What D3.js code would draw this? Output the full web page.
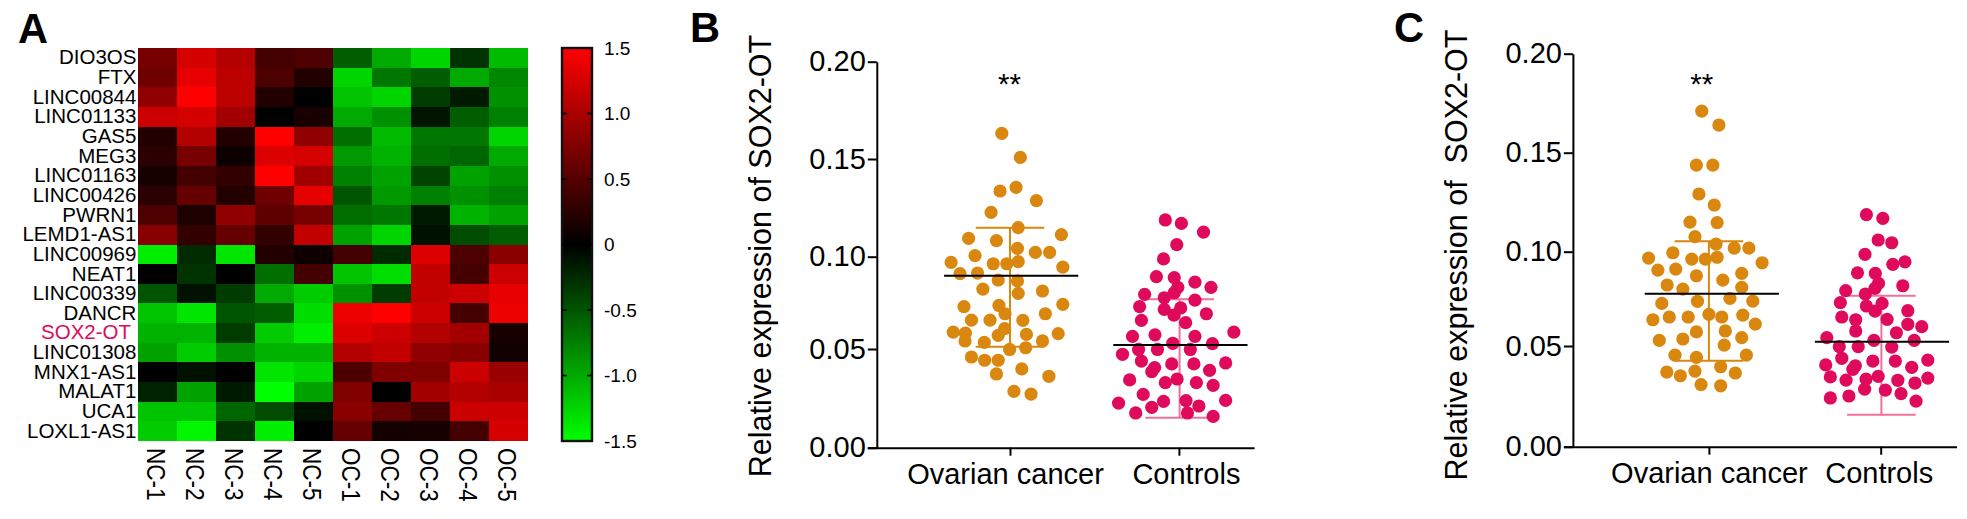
<!DOCTYPE html>
<html>
<head>
<meta charset="utf-8">
<script src="https://cdn.jsdelivr.net/npm/d3@7"></script>
<style>
  html, body { margin: 0; padding: 0; background: #fff; }
  svg { display: block; }
  text { font-family: "Liberation Sans", Arial, sans-serif; fill: #000; white-space: pre; }
</style>
</head>
<body>
<svg id="chart" width="1967" height="519"></svg>
<script>
// heatmap
const genes = ["DIO3OS","FTX","LINC00844","LINC01133","GAS5","MEG3","LINC01163","LINC00426","PWRN1","LEMD1-AS1",
  "LINC00969","NEAT1","LINC00339","DANCR","SOX2-OT","LINC01308","MNX1-AS1","MALAT1","UCA1","LOXL1-AS1"];
const samples = ["NC-1","NC-2","NC-3","NC-4","NC-5","OC-1","OC-2","OC-3","OC-4","OC-5"];
const expression = [
  [.7,1.25,1.05,.4,.45,-.55,-1.0,-1.25,-.3,-1.1],
  [.65,1.35,1.1,.45,.2,-1.25,-.7,-.55,-1.0,-.8],
  [.85,1.5,1.1,.2,0,-1.15,-1.25,-.35,-.15,-.85],
  [1.2,1.25,.95,0,.15,-1.0,-.85,-.12,-.55,-.75],
  [.2,1.05,.2,1.5,.85,-.65,-1.1,-.7,-.7,-1.25],
  [.25,.7,.08,1.3,1.25,-.9,-1.05,-.65,-.6,-1.0],
  [.15,.4,.3,1.5,.95,-.75,-.95,-.4,-.95,-.85],
  [.25,.6,.2,.65,1.35,-.5,-.9,-.75,-.85,-.75],
  [.45,.18,.85,.55,.7,-.65,-.7,-.15,-1.05,-.95],
  [.8,.3,.6,.3,1.15,-.95,-1.25,-.1,-.45,-.55],
  [-1.4,-.25,-1.35,.2,.08,.4,-.25,1.3,.45,.8],
  [0,-.3,0,-.65,.4,-1.15,-1.3,1.15,.4,1.2],
  [-.5,-.1,-.35,-1.0,-1.2,-.85,-.35,1.15,1.2,1.35],
  [-1.15,-1.35,-.5,-.55,-1.3,1.4,1.5,1.2,.4,1.4],
  [-1.05,-1.05,-.35,-1.2,-1.4,1.3,1.2,1.05,.95,.15],
  [-.95,-1.2,-.85,-1.05,-1.05,1.05,1.15,.85,.8,.1],
  [0,-.1,0,-1.35,-1.25,.45,.75,.75,1.2,.9],
  [-.2,-.95,-.15,-1.5,-.95,.75,0,.95,1.05,1.0],
  [-1.15,-1.15,-.6,-.45,-.1,.8,.6,.4,1.2,1.2],
  [-1.2,-1.45,-.3,-1.4,0,.6,.12,.15,.4,1.25]
];
const colorbarTicks = [1.5,1,.5,0,-.5,-1,-1.5];

// scatter panels, values with their swarm offsets
const groups = ["Ovarian cancer","Controls"];
const yTicks = [0,.05,.1,.15,.2];

const ovarianB = [.1629,.1504,.1330,.1349,.1280,.1219,.1140,.1104,.1085,.1073,.1033,.0995,.1012,.1012,.0960,.0953,.0953,.0964,.0936,.0902,.0905,.0869,.0864,.0822,.0812,.0800,.0731,.0737,.0743,.0694,.0694,.0661,.0661,.0660,.0617,.0599,.0594,.0582,.0587,.0591,.0553,.0546,.0553,.0509,.0518,.0470,.0453,.0453,.0408,.0382,.0370,.0292,.0278];
const ovarianBJitter = [-23,29,-28,17,74,-53,23,144,-116,-38,21,-98,71,111,-165,-47,-9,23,148,-140,-91,-33,21,-76,91,23,-129,-31,148,-14,99,-108,-56,36,-15,-159,-125,-33,46,135,-126,-72,91,-1,44,-108,-71,-33,33,-38,109,11,59];
const controlB = [.1180,.1162,.1117,.1052,.0978,.0886,.0881,.0858,.0831,.0831,.0794,.0803,.0777,.0765,.0731,.0724,.0717,.0694,.0687,.0660,.0648,.0599,.0577,.0585,.0577,.0541,.0539,.0509,.0509,.0509,.0484,.0449,.0434,.0434,.0439,.0415,.0394,.0401,.0351,.0356,.0337,.0337,.0323,.0276,.0231,.0240,.0244,.0245,.0216,.0209,.0180,.0180,.0162];
const controlBJitter = [-40,5,67,-8,-45,-65,-15,43,88,-5,-98,-15,-43,43,-112,3,-43,75,-16,-107,17,152,-132,-69,43,-19,92,-115,-62,30,-160,-107,-22,40,129,-70,-78,84,-140,-7,-40,47,94,-102,-171,-45,18,129,54,-78,-123,22,94];

const ovarianC = [.1708,.1637,.1433,.1433,.1286,.1230,.1143,.1140,.1069,.1031,.1011,.1011,.0987,.0960,.0955,.0955,.0964,.0936,.0899,.0904,.0870,.0882,.0848,.0823,.0802,.0811,.0729,.0740,.0755,.0741,.0673,.0646,.0660,.0660,.0660,.0670,.0624,.0584,.0589,.0541,.0548,.0555,.0517,.0466,.0455,.0466,.0407,.0380,.0385,.0375,.0361,.0316,.0310];
const ovarianCJitter = [-20,28,-35,11,-28,15,-53,23,-39,20,71,112,-101,-169,-48,-10,23,149,-143,-93,-35,92,39,-117,-73,92,-132,-32,59,123,0,-157,-111,-58,36,95,130,-35,46,-139,-73,92,43,-95,-35,105,33,-118,-39,74,-80,-22,33];
const controlC = [.1181,.1162,.1052,.1038,.0979,.0928,.0941,.0885,.0882,.0831,.0806,.0819,.0794,.0777,.0733,.0729,.0716,.0690,.0692,.0660,.0648,.0646,.0611,.0623,.0580,.0589,.0555,.0541,.0541,.0509,.0509,.0507,.0450,.0436,.0436,.0441,.0416,.0412,.0394,.0404,.0355,.0358,.0344,.0339,.0338,.0349,.0324,.0293,.0288,.0270,.0258,.0248,.0232];
const controlCJitter = [-42,4,-9,29,-46,32,66,-67,-17,-8,-18,60,-100,-45,-115,2,-42,-18,74,-111,16,-72,113,74,42,-72,-153,-21,92,-118,-65,29,-111,-24,39,130,-156,-73,-80,85,-143,-9,-43,-99,46,130,94,-47,11,55,-91,-143,97];

// mean, upper and lower whisker of each group
const statsB = [{ mean: .0891, hi: .1140, lo: .0523 }, { mean: .0532, hi: .0769, lo: .0155 }];
const statsC = [{ mean: .0779, hi: .1045, lo: .0438 }, { mean: .0534, hi: .0768, lo: .0163 }];

const orange = "#D9870F";
const pink = "#DF0A5B";
const pinkBar = "#F0709C";

const svg = d3.select("#chart");
svg.append("rect").attr("width", 1967).attr("height", 519).attr("fill", "#fff");

// ---- panel A ----
const color = d3.scaleLinear().domain([-1.5, 0, 1.5]).range(["#00ff00", "#000000", "#ff0000"]);
const xCell = d3.scaleBand().domain(samples).range([137.9, 527.9]);
const yCell = d3.scaleBand().domain(genes).range([48, 441]);

const cells = expression.flatMap((row, i) => row.map((v, j) => ({ gene: genes[i], sample: samples[j], v })));
svg.append("g")
  .selectAll("rect")
  .data(cells)
  .join("rect")
  .attr("x", (d) => xCell(d.sample))
  .attr("y", (d) => yCell(d.gene))
  .attr("width", xCell.bandwidth())
  .attr("height", yCell.bandwidth())
  .attr("fill", (d) => color(d.v))
  .attr("shape-rendering", "crispEdges");

const rowAxis = svg.append("g")
  .attr("transform", "translate(137.9,0)")
  .call(d3.axisLeft(yCell).tickSize(0).tickPadding(1.5));
rowAxis.select(".domain").remove();
rowAxis.selectAll("text")
  .style("font-size", "20.5px")
  .style("font-family", "'Liberation Sans'")
  .style("fill", (d) => (d === "SOX2-OT" ? pink : "#000"))
  .text((d) => (d === "SOX2-OT" ? d + " " : d));

const colAxis = svg.append("g")
  .attr("transform", "translate(0,441)")
  .call(d3.axisBottom(xCell).tickSize(0));
colAxis.select(".domain").remove();
colAxis.selectAll("text")
  .style("font-size", "25px")
  .style("font-family", "'Liberation Sans'")
  .attr("text-anchor", "start")
  .attr("dy", 0)
  .attr("y", 0)
  .attr("transform", "translate(-10.5,7) rotate(90) scale(.9,1)");

// colour bar
const yBar = d3.scaleLinear().domain([1.5, -1.5]).range([48, 441]);
const defs = svg.append("defs");
const grad = defs.append("linearGradient")
  .attr("id", "barGradient")
  .attr("x1", 0).attr("x2", 0).attr("y1", 0).attr("y2", 1);
grad.selectAll("stop")
  .data([1.5, 0, -1.5])
  .join("stop")
  .attr("offset", (d) => (1.5 - d) / 3)
  .attr("stop-color", (d) => color(d));
svg.append("rect")
  .attr("x", 562).attr("y", yBar(1.5))
  .attr("width", 30).attr("height", yBar(-1.5) - yBar(1.5))
  .attr("fill", "url(#barGradient)")
  .attr("stroke", "#111").attr("stroke-width", 2.4);
const barG = svg.append("g");
[[562, 567], [587, 592]].forEach(([a, b]) => {
  barG.selectAll(null)
    .data(colorbarTicks.filter((d) => Math.abs(d) !== 1.5))
    .join("line")
    .attr("x1", a).attr("x2", b)
    .attr("y1", (d) => yBar(d)).attr("y2", (d) => yBar(d))
    .attr("stroke", "#000").attr("stroke-width", 1.6);
});
const barAxis = svg.append("g")
  .attr("transform", "translate(592,0)")
  .call(d3.axisRight(yBar).tickValues(colorbarTicks).tickSize(0).tickPadding(12)
    .tickFormat((d) => (d === 0 ? "0" : d.toFixed(1))));
barAxis.select(".domain").remove();
barAxis.selectAll("text")
  .style("font-size", "19px")
  .style("font-family", "'Liberation Sans'");

// ---- panels B and C ----
function drawPanel(p) {
  const g = svg.append("g");
  const y = d3.scaleLinear().domain([0, .2]).range([p.y0, p.y20]);
  // printed ticks are not quite evenly spaced
  const yAxisScale = d3.scaleLinear().domain(yTicks).range(p.tickPos);
  const x = d3.scalePoint().domain(groups).range(p.centers);
  const jitter = d3.scaleLinear().domain([-188, 188]).range([-67.1, 67.1]);
  const capHalf = 34.3;

  const series = [
    { key: groups[0], values: p.ovarian, offsets: p.ovarianJitter, stat: p.stats[0], fill: orange, bar: orange, barX: p.barX[0], meanX: p.meanX[0] },
    { key: groups[1], values: p.control, offsets: p.controlJitter, stat: p.stats[1], fill: pink, bar: pinkBar, barX: p.barX[1], meanX: p.meanX[1] }
  ];

  series.forEach((s) => {
    const bars = g.append("g").attr("stroke", s.bar).attr("stroke-width", 2);
    bars.append("line").attr("x1", s.barX).attr("x2", s.barX).attr("y1", y(s.stat.hi)).attr("y2", y(s.stat.lo));
    [s.stat.hi, s.stat.lo].forEach((v) => {
      bars.append("line").attr("x1", s.barX - capHalf).attr("x2", s.barX + capHalf).attr("y1", y(v)).attr("y2", y(v));
    });
    g.append("g")
      .selectAll("circle")
      .data(s.values.map((v, i) => ({ v, off: s.offsets[i] })))
      .join("circle")
      .attr("cx", (d) => s.barX + jitter(d.off))
      .attr("cy", (d) => y(d.v))
      .attr("r", 6.6)
      .attr("fill", s.fill);
    g.append("line")
      .attr("x1", s.meanX + jitter(-188)).attr("x2", s.meanX + jitter(188))
      .attr("y1", y(s.stat.mean)).attr("y2", y(s.stat.mean))
      .attr("stroke", "#000").attr("stroke-width", 2);
  });

  const yAxis = g.append("g")
    .attr("transform", `translate(${p.axisX},0)`)
    .call(d3.axisLeft(yAxisScale).tickValues(yTicks).tickFormat(d3.format(".2f")).tickSize(9).tickSizeOuter(0).tickPadding(2));
  yAxis.selectAll("text").style("font-size", "29px").style("font-family", "'Liberation Sans'");

  const xAxis = g.append("g")
    .attr("transform", `translate(0,${p.y0})`)
    .call(d3.axisBottom(x).tickSize(8).tickSizeOuter(0).tickPadding(8));
  xAxis.select(".domain").attr("d", `M${p.axisX - 9},0.5H${p.axisRight}`);
  xAxis.selectAll("text")
    .style("font-size", "29px")
    .style("font-family", "'Liberation Sans'")
    .attr("dx", (d, i) => p.labelDx[i]);

  g.selectAll(".domain").attr("stroke-width", 2).attr("stroke", "#000");
  g.selectAll(".tick line").attr("stroke-width", 2).attr("stroke", "#000");

  g.append("text")
    .attr("transform", `translate(${p.titleX},${p.titleY}) rotate(-90)`)
    .attr("text-anchor", "middle")
    .style("font-size", "30.5px")
    .text(p.title);

  g.append("text")
    .attr("x", p.starX).attr("y", p.starY)
    .attr("text-anchor", "middle")
    .style("font-size", "29.5px")
    .text("**");
}

drawPanel({
  ovarian: ovarianB, ovarianJitter: ovarianBJitter,
  control: controlB, controlJitter: controlBJitter,
  stats: statsB,
  y0: 447.7, y20: 61.7,
  tickPos: [447.7, 349, 256.7, 159, 61.7],
  centers: [1010, 1178.9], barX: [1010, 1179.6], meanX: [1011.2, 1180.4],
  axisX: 876.8, axisRight: 1254.6,
  labelDx: [-5, 7],
  title: "Relative expression of SOX2-OT", titleX: 770.7, titleY: 256,
  starX: 1009.6, starY: 94
});

drawPanel({
  ovarian: ovarianC, ovarianJitter: ovarianCJitter,
  control: controlC, controlJitter: controlCJitter,
  stats: statsC,
  y0: 446.7, y20: 53.7,
  tickPos: [446.7, 346, 251.7, 152.7, 53.7],
  centers: [1708.9, 1880.7], barX: [1708.9, 1881.4], meanX: [1711.8, 1882],
  axisX: 1572.9, axisRight: 1957,
  labelDx: [0, -2],
  title: "Relative expression of  SOX2-OT", titleX: 1466.8, titleY: 255,
  starX: 1701.8, starY: 94
});

// panel letters
[["A", 18, 43], ["B", 690, 42], ["C", 1394, 42]].forEach(([t, lx, ly]) => {
  svg.append("text")
    .attr("x", lx).attr("y", ly)
    .style("font-size", "41.6px").style("font-weight", "700")
    .text(t);
});
</script>
</body>
</html>
